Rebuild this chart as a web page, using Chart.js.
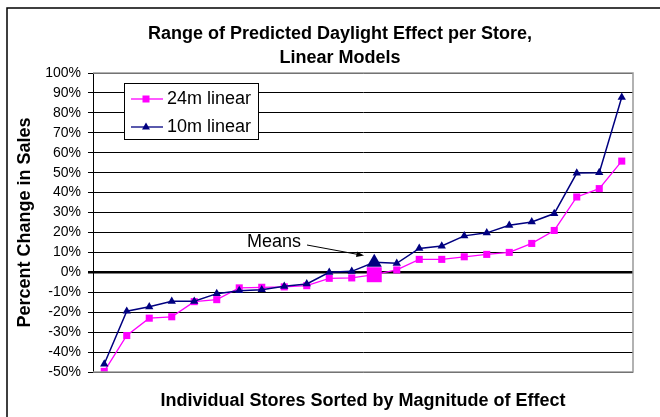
<!DOCTYPE html>
<html>
<head>
<meta charset="utf-8">
<script src="https://cdn.jsdelivr.net/npm/chart.js@4.4.1/dist/chart.umd.min.js"></script>
<style>
    html, body { margin: 0; padding: 0; background: #fff; }
    #wrap { width: 660px; height: 417px; position: relative; }
</style>
</head>
<body>
<div id="wrap"><canvas id="daylightChart"></canvas></div>
<script>
// stores sorted by effect, with the mean point in the middle
const stores = ['1', '2', '3', '4', '5', '6', '7', '8', '9', '10', '11', '12', 'Mean',
    '13', '14', '15', '16', '17', '18', '19', '20', '21', '22', '23'];
const linear24m = [-49.7, -31.7, -23, -22.3, -14.7, -13.7, -7.8, -7.5, -7.3, -6.7, -3, -2.8, -1.2,
    1.2, 6.5, 6.5, 7.8, 9, 10, 14.5, 21, 37.8, 42, 55.8];
const linear10m = [-46, -19.5, -17.3, -14.5, -14.5, -10.7, -9.2, -8.7, -7, -5.8, 0, 0.5, 5,
    4.5, 12, 13.2, 18.3, 19.8, 23.6, 25.3, 29.5, 49.8, 50, 87.8];
const titleLines = ['Range of Predicted Daylight Effect per Store,', 'Linear Models'];
const meanIndex = 12;

const PINK = '#FF00FF';
const NAVY = '#000080';

document.addEventListener('DOMContentLoaded', function() {
    const ctx = document.getElementById('daylightChart').getContext('2d');

    // title, legend box, "Means" note and outer frame
    const extras = {
        id: 'extras',
        afterDraw(chart) {
            const c = chart.ctx;
            const area = chart.chartArea;
            c.save();

            // plot area frame
            c.strokeStyle = '#999999';
            c.lineWidth = 1.5;
            c.beginPath();
            c.moveTo(area.left, area.top);
            c.lineTo(area.right, area.top);
            c.lineTo(area.right, area.bottom);
            c.lineTo(area.left, area.bottom);
            c.stroke();

            // outer frame
            c.strokeStyle = '#000';
            c.lineWidth = 1.5;
            c.strokeRect(7, 8, 720, 520);

            // title
            c.fillStyle = '#000';
            c.font = 'bold 18px "Liberation Sans", Arial, sans-serif';
            c.textAlign = 'center';
            c.textBaseline = 'middle';
            c.fillText(titleLines[0], 340, 34);
            c.fillText(titleLines[1], 340, 58);

            // legend
            c.fillStyle = '#fff';
            c.fillRect(124, 83, 134, 56);
            c.strokeStyle = '#000';
            c.lineWidth = 1;
            c.strokeRect(124.5, 83.5, 134, 56);

            c.lineWidth = 1.3;
            c.strokeStyle = PINK;
            c.beginPath(); c.moveTo(131, 99); c.lineTo(163, 99); c.stroke();
            c.fillStyle = PINK;
            c.fillRect(142.5, 95.5, 7, 7);

            c.strokeStyle = NAVY;
            c.beginPath(); c.moveTo(131, 127); c.lineTo(163, 127); c.stroke();
            c.fillStyle = NAVY;
            c.beginPath();
            c.moveTo(146, 122.5); c.lineTo(150, 129.5); c.lineTo(142, 129.5);
            c.closePath(); c.fill();

            c.fillStyle = '#000';
            c.font = '18px "Liberation Sans", Arial, sans-serif';
            c.textAlign = 'left';
            c.fillText('24m linear', 167, 99);
            c.fillText('10m linear', 167, 127);

            // "Means" pointer
            c.fillText('Means', 247, 242);
            c.strokeStyle = '#000';
            c.lineWidth = 1;
            c.beginPath(); c.moveTo(307, 245); c.lineTo(361, 255); c.stroke();
            c.beginPath();
            c.moveTo(364, 255.5); c.lineTo(357, 251.5); c.lineTo(356, 257); c.closePath();
            c.fill();

            c.restore();
        }
    };

    const radius24 = linear24m.map((v, i) => i === meanIndex ? 10.6 : 5);
    const radius10 = linear10m.map((v, i) => i === meanIndex ? 8.7 : 4.8);

    new Chart(ctx, {
        type: 'line',
        data: {
            labels: stores,
            datasets: [{
                label: '24m linear',
                data: linear24m,
                borderColor: PINK,
                backgroundColor: PINK,
                borderWidth: 1.3,
                pointStyle: 'rect',
                pointRadius: radius24,
                pointBorderWidth: 0,
                pointBackgroundColor: PINK,
                tension: 0,
                order: 2
            }, {
                label: '10m linear',
                data: linear10m,
                borderColor: NAVY,
                backgroundColor: NAVY,
                borderWidth: 1.5,
                pointStyle: 'triangle',
                pointRadius: radius10,
                pointBorderWidth: 0,
                pointBackgroundColor: NAVY,
                tension: 0,
                order: 1
            }]
        },
        options: {
            responsive: true,
            maintainAspectRatio: false,
            animation: false,
            layout: { padding: { left: 0, top: 73, right: 27, bottom: 0 } },
            plugins: {
                legend: { display: false },
                title: { display: false },
                tooltip: { enabled: false }
            },
            scales: {
                x: {
                    offset: true,
                    grid: { display: false },
                    border: { display: false },
                    ticks: { display: false },
                    title: {
                        display: true,
                        text: 'Individual Stores Sorted by Magnitude of Effect',
                        color: '#000',
                        font: { family: '"Liberation Sans", Arial, sans-serif', size: 18, weight: 'bold' },
                        padding: { top: 0, bottom: 5 }
                    },
                    afterFit: function(scale) { scale.height = 45; }
                },
                y: {
                    min: -50,
                    max: 100,
                    ticks: {
                        stepSize: 10,
                        color: '#000',
                        padding: 7,
                        font: { family: '"Liberation Sans", Arial, sans-serif', size: 14 },
                        callback: function(v) { return v + '%'; }
                    },
                    grid: {
                        color: '#000',
                        lineWidth: function(c) { return c.tick && c.tick.value === 0 ? 2.5 : 1; },
                        tickLength: 5
                    },
                    border: { display: true, color: '#000', width: 1 },
                    title: {
                        display: true,
                        text: 'Percent Change in Sales',
                        color: '#000',
                        font: { family: '"Liberation Sans", Arial, sans-serif', size: 18, weight: 'bold' },
                        padding: { top: 14, bottom: 0 }
                    },
                    afterFit: function(scale) { scale.width = 93; }
                }
            }
        },
        plugins: [extras]
    });
});
</script>
</body>
</html>
